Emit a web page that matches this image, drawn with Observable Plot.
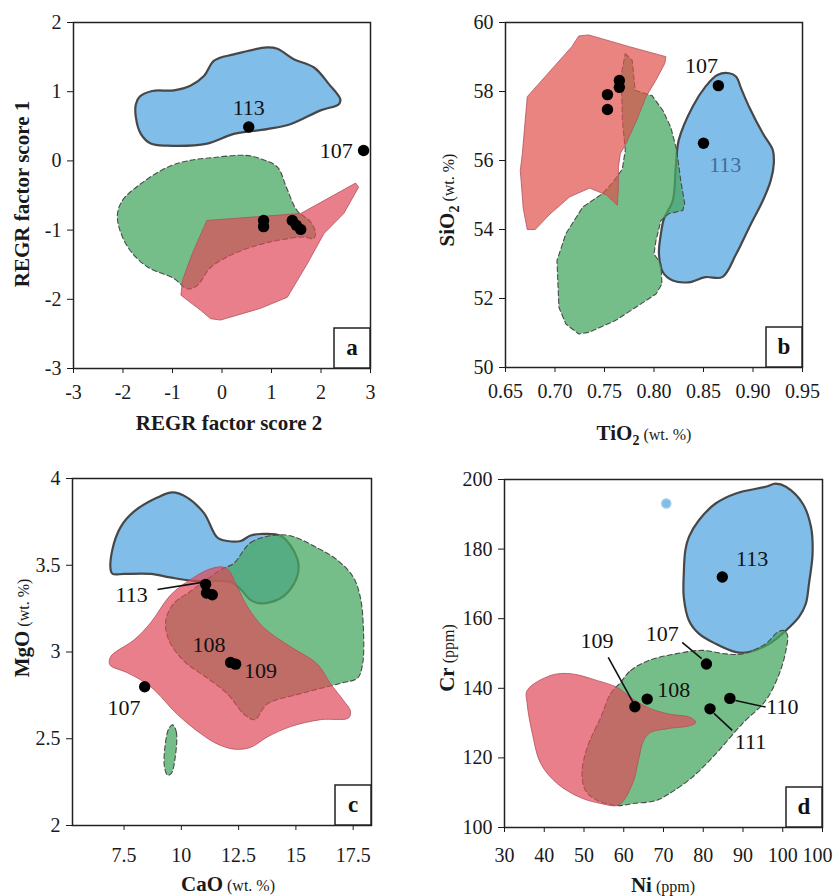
<!DOCTYPE html>
<html><head><meta charset="utf-8">
<script src="https://cdn.jsdelivr.net/npm/d3@7"></script>
<script src="https://cdn.jsdelivr.net/npm/@observablehq/plot@0.6"></script>
<style>
body{margin:0;background:#fff;}
#fig{position:relative;width:835px;height:896px;}
#fig svg{position:absolute;overflow:visible;}
</style></head><body><div id="fig"></div>
<script>
// ---------- Panel a: REGR factor scores ----------
const aTicksX = [-3,-2,-1,0,1,2,3];
const aTicksY = [-3,-2,-1,0,1,2];
const aBlue = [[-1.74,0.82],[-1.66,0.93],[-1.41,1.01],[-0.97,1.02],[-0.63,1.09],[-0.36,1.23],[-0.16,1.45],[0.24,1.54],[0.91,1.64],[1.12,1.62],[1.45,1.47],[1.86,1.35],[2.16,1.11],[2.39,0.89],[2.36,0.82],[1.99,0.73],[1.38,0.53],[0.91,0.46],[0.24,0.39],[-0.30,0.25],[-1.10,0.22],[-1.44,0.25],[-1.64,0.39],[-1.74,0.63]];
const aGreen = [[-2.11,-0.76],[-2.01,-0.57],[-1.64,-0.33],[-1.10,-0.09],[-0.70,0.0],[-0.16,0.05],[0.48,0.08],[0.78,0.03],[1.12,-0.09],[1.30,-0.38],[1.52,-0.72],[1.79,-0.88],[1.89,-1.05],[1.85,-1.12],[1.65,-1.10],[0.98,-1.17],[0.31,-1.32],[-0.23,-1.54],[-0.50,-1.80],[-0.70,-1.85],[-0.97,-1.70],[-1.51,-1.53],[-1.88,-1.27],[-2.08,-0.96]];
const aRed = [[-0.30,-0.86],[1.59,-0.76],[2.70,-0.32],[2.76,-0.38],[2.46,-0.76],[2.06,-1.05],[1.72,-1.49],[1.32,-1.97],[0.78,-2.13],[-0.03,-2.30],[-0.23,-2.28],[-0.43,-2.16],[-0.83,-1.94],[-0.80,-1.73],[-0.60,-1.34]];
const aPoints = [{x:0.54,y:0.49},{x:2.86,y:0.15},{x:0.84,y:-0.86},{x:0.84,y:-0.95},{x:1.42,y:-0.86},{x:1.50,y:-0.93},{x:1.59,y:-0.99}];
const aLabels = [{x:0.54,y:0.76,t:"113",anchor:"middle"},{x:2.64,y:0.14,t:"107",anchor:"end"}];

// ---------- Panel b: TiO2 vs SiO2 ----------
const bTicksX = [0.65,0.70,0.75,0.80,0.85,0.90,0.95];
const bTickLabelsX = ["0.65","0.70","0.75","0.80","0.85","0.90","0.95"];
const bTicksY = [50,52,54,56,58,60];
const bBlue = [[0.876,58.53],[0.883,58.43],[0.888,58.09],[0.896,57.56],[0.910,56.78],[0.920,56.30],[0.921,55.91],[0.918,55.43],[0.910,54.84],[0.898,54.17],[0.883,53.29],[0.869,52.62],[0.852,52.62],[0.835,52.47],[0.819,52.52],[0.809,52.76],[0.805,53.29],[0.807,53.88],[0.810,54.31],[0.819,54.84],[0.822,55.81],[0.825,56.59],[0.839,57.56],[0.852,58.14],[0.864,58.48]];
const bGreen = [[0.771,59.10],[0.778,58.90],[0.781,58.03],[0.791,57.94],[0.798,57.88],[0.809,57.45],[0.817,56.96],[0.823,56.29],[0.827,55.42],[0.831,54.75],[0.829,54.55],[0.815,54.46],[0.807,54.26],[0.802,53.68],[0.800,53.29],[0.807,53.00],[0.808,52.42],[0.802,52.13],[0.761,51.36],[0.734,51.02],[0.724,50.97],[0.711,51.26],[0.704,51.74],[0.702,53.10],[0.711,53.88],[0.728,54.65],[0.748,55.04],[0.758,55.35],[0.768,55.75],[0.771,56.3],[0.768,57.2],[0.767,58.5]];
const bRed = [[0.665,55.72],[0.667,56.20],[0.672,57.85],[0.690,58.43],[0.717,59.30],[0.724,59.61],[0.734,59.64],[0.775,59.30],[0.812,59.01],[0.811,58.82],[0.802,58.33],[0.792,57.85],[0.783,57.2],[0.772,56.5],[0.766,56.2],[0.764,55.8],[0.764,55.2],[0.763,54.7],[0.752,55.0],[0.735,55.2],[0.715,54.95],[0.695,54.45],[0.680,54.0],[0.672,54.0],[0.668,54.6]];
const bPoints = [{x:0.753,y:57.91},{x:0.753,y:57.48},{x:0.765,y:58.32},{x:0.765,y:58.12},{x:0.865,y:58.17},{x:0.850,y:56.50}];
const bLabels = [{x:0.848,y:58.75,t:"107",c:"#111",anchor:"middle"},{x:0.872,y:55.86,t:"113",c:"#3f6f98",anchor:"middle"}];

// ---------- Panel c: CaO vs MgO ----------
const cTicksX = [7.5,10,12.5,15,17.5];
const cTicksY = [2,2.5,3,3.5,4];
const cBlue = [[6.92,3.47],[6.99,3.59],[7.35,3.72],[7.94,3.81],[8.95,3.89],[9.61,3.92],[10.26,3.89],[10.99,3.80],[11.57,3.66],[12.01,3.64],[12.59,3.64],[13.0,3.67],[13.46,3.68],[14.33,3.67],[14.9,3.585],[15.12,3.49],[14.9,3.39],[14.33,3.31],[13.46,3.28],[13.02,3.30],[12.6,3.36],[12.2,3.40],[11.5,3.41],[10.54,3.41],[9.5,3.43],[8.67,3.45],[7.5,3.45],[7.0,3.45]];
const cGreen = [[12.28,3.51],[13.02,3.63],[13.89,3.67],[14.76,3.67],[15.94,3.60],[16.81,3.53],[17.51,3.43],[17.82,3.31],[17.95,3.12],[17.91,2.93],[17.69,2.85],[16.95,2.82],[15.2,2.76],[13.75,2.70],[13.2,2.61],[12.75,2.64],[12.0,2.76],[11.13,2.85],[10.1,2.95],[9.45,3.07],[9.32,3.18],[9.67,3.28],[10.4,3.35],[11.13,3.42],[11.8,3.48]];
const cGreenSmall = [[9.62,2.58],[9.78,2.54],[9.74,2.40],[9.56,2.30],[9.40,2.29],[9.26,2.34],[9.30,2.47],[9.46,2.56]];
const cRed = [[6.85,2.94],[6.95,2.98],[7.94,3.07],[8.67,3.17],[9.54,3.33],[10.54,3.43],[11.28,3.48],[11.8,3.49],[12.07,3.47],[12.46,3.37],[12.89,3.26],[13.6,3.14],[14.77,3.03],[15.94,2.93],[16.5,2.82],[17.08,2.72],[17.38,2.66],[17.3,2.62],[16.08,2.61],[14.77,2.57],[13.75,2.51],[13.02,2.45],[12.30,2.44],[11.57,2.47],[10.84,2.53],[9.83,2.64],[8.66,2.80],[7.65,2.88],[6.92,2.92]];
const cPoints = [{x:11.06,y:3.39},{x:11.10,y:3.34},{x:11.35,y:3.33},{x:12.15,y:2.94},{x:12.37,y:2.93},{x:8.40,y:2.80}];
const cLabels = [{x:8.53,y:3.33,t:"113",anchor:"end"},{x:11.21,y:3.04,t:"108",anchor:"middle"},{x:13.46,y:2.89,t:"109",anchor:"middle"},{x:7.5,y:2.68,t:"107",anchor:"middle"}];
const cLeaders = [{x1:8.96,y1:3.36,x2:10.84,y2:3.40}];

// ---------- Panel d: Ni vs Cr ----------
const dTicksX = [30,40,50,60,70,80,90,100,110];
const dTickLabelsX = ["30","40","50","60","70","80","90","100","100"];
const dTicksY = [100,120,140,160,180,200];
const dBlue = [[75.5,179.7],[76.4,183.5],[78.9,188.3],[83.1,193.1],[88.2,196.0],[95.7,197.9],[98.2,198.8],[100.8,197.9],[105.0,193.1],[107.1,186.4],[107.5,178.7],[106.6,170.1],[105.8,164.3],[104.1,160.5],[100.8,156.6],[96.6,152.8],[91.5,150.4],[88.2,150.4],[83.1,152.8],[78.9,155.7],[76.4,159.5],[75.1,166.2],[75.1,172.9]];
const dBlueSpot = [{x:70.7,y:193.1}];
const dGreen = [[59.2,141.7],[61.7,145.1],[66.3,148.0],[73.0,149.9],[79.7,150.9],[85.6,149.9],[89.8,149.9],[95.7,152.8],[98.7,156.1],[100.3,156.6],[101.2,155.2],[100.8,150.9],[99.1,144.1],[95.7,136.5],[89.8,129.8],[83.1,121.1],[77.2,114.4],[71.3,109.6],[68.0,107.7],[62.5,106.9],[58.4,106.3],[53.3,107.8],[50.4,110.6],[49.5,115.5],[50.8,123.0],[54.2,131.6],[56.7,138.5]];
const dRed = [[35.7,139.4],[41.6,143.7],[46.6,144.2],[53.4,142.2],[58.4,140.2],[61.7,137.4],[66.0,134.5],[71.0,132.7],[76.8,131.6],[78.1,130.2],[76.8,129.3],[71.0,128.4],[66.7,127.3],[65.0,125.0],[63.7,119.3],[62.5,113.5],[60.0,107.8],[58.4,106.3],[54.2,106.9],[49.1,108.6],[43.3,112.6],[39.1,118.4],[37.0,127.0],[35.7,135.6]];
const dPoints = [{x:84.8,y:172.0},{x:80.8,y:147.0},{x:65.9,y:136.9},{x:62.8,y:134.7},{x:86.7,y:137.1},{x:81.7,y:134.1}];
const dLabels = [{x:92.3,y:177.2,t:"113",anchor:"middle"},{x:69.7,y:155.7,t:"107",anchor:"middle"},{x:53.3,y:153.7,t:"109",anchor:"middle"},{x:72.6,y:139.6,t:"108",anchor:"middle"},{x:99.9,y:134.6,t:"110",anchor:"middle"},{x:91.9,y:124.5,t:"111",anchor:"middle"}];
const dLeaders = [{x1:74.7,y1:153.2,x2:79.6,y2:148.5},{x1:56.1,y1:148.9,x2:62.3,y2:136.0},{x1:88.1,y1:136.5,x2:95.7,y2:134.6},{x1:82.7,y1:132.8,x2:87.3,y2:127.9}];

// ---------- styles ----------
const FONT = "'Liberation Serif','Times New Roman',serif";
const BLUE = "#80bde8", GREEN = "#48a862", RED = "#e04858", SALMON = "#e0504c";
const px = d => d[0], py = d => d[1];
const blueShape = (data, curve="catmull-rom-closed") => Plot.line(data, {x: px, y: py, curve, fill: BLUE, stroke: "#474747", strokeWidth: 2.2});
const greenShape = (data, curve="catmull-rom-closed") => Plot.line(data, {x: px, y: py, curve, fill: GREEN, fillOpacity: 0.75, stroke: "#4a4a4a", strokeWidth: 1.1, strokeDasharray: "5,3"});
const redShape = (data, curve="catmull-rom-closed", color=RED) => Plot.line(data, {x: px, y: py, curve, fill: color, fillOpacity: 0.7, stroke: "#b0505c", strokeWidth: 0.8});
const dots = data => Plot.dot(data, {x: "x", y: "y", r: 5.7, fill: "#000"});
const labelMarks = (data) => ["start", "middle", "end"].map(a =>
  Plot.text(data.filter(d => d.anchor === a), {x: "x", y: "y", text: "t", fontSize: 22, fill: d => d.c || "#111", textAnchor: a}));
const leaders = data => Plot.link(data, {x1: "x1", y1: "y1", x2: "x2", y2: "y2", stroke: "#111", strokeWidth: 1.6});
const fromList = (ticks, list) => d => list[ticks.indexOf(d)];

const fig = document.getElementById("fig");

function addLabel(svg, x, y, rotate, parts) {
  const t = svg.append("text")
    .attr("text-anchor", "middle")
    .attr("fill", "#1a1a1a")
    .style("font-family", FONT)
    .attr("transform", `translate(${x},${y})` + (rotate ? " rotate(-90)" : ""));
  parts.forEach(p => {
    const s = t.append("tspan").text(p.t)
      .style("font-size", (p.sub ? 14 : (p.bold ? 21 : 16)) + "px")
      .style("font-weight", p.bold ? "bold" : "normal");
    if (p.sub) s.attr("dy", 5);
    if (p.after) s.attr("dy", -5);
  });
}

function panel(cfg) {
  const plot = Plot.plot({
    width: cfg.width, height: cfg.height,
    marginTop: cfg.m[0], marginRight: cfg.m[1], marginBottom: cfg.m[2], marginLeft: cfg.m[3],
    style: {fontFamily: FONT, fontSize: "20px", background: "transparent", color: "#1a1a1a"},
    x: {domain: cfg.xDomain, ticks: cfg.xTicks, tickFormat: cfg.xFormat, tickSize: 5, tickPadding: cfg.xPad, label: null},
    y: {domain: cfg.yDomain, ticks: cfg.yTicks, tickFormat: cfg.yFormat, tickSize: 6, tickPadding: 6, label: null},
    marks: [...cfg.marks, Plot.frame({stroke: "#222", strokeWidth: 1.5})]
  });
  plot.style.left = cfg.left + "px";
  plot.style.top = cfg.top + "px";
  fig.appendChild(plot);
  const svg = d3.select(plot);
  svg.selectAll("text").style("font-family", FONT);
  const axisGroups = svg.selectAll("g").filter(function () {
    const a = this.getAttribute("aria-label") || "";
    return a.includes("axis");
  });
  axisGroups.selectAll("text").style("font-size", "20px").style("font-family", FONT);
  if (cfg.nudgeLastX) {
    const xl = svg.selectAll("g").filter(function () {
      const a = this.getAttribute("aria-label") || "";
      return a.includes("x-axis") && a.includes("label");
    }).selectAll("text").nodes();
    if (xl.length) d3.select(xl[xl.length - 1]).attr("dx", cfg.nudgeLastX);
  }
  const xr = plot.scale("x").range, yr = plot.scale("y").range;
  const right = Math.max(...xr), bottom = Math.max(...yr);
  svg.append("rect").attr("x", right - 36).attr("y", bottom - 40).attr("width", 36).attr("height", 40)
    .attr("fill", "#fff").attr("stroke", "#222").attr("stroke-width", 1.5);
  svg.append("text").attr("x", right - 18).attr("y", bottom - 13).attr("text-anchor", "middle")
    .style("font-family", FONT).style("font-weight", "bold").style("font-size", "23px").attr("fill", "#111").text(cfg.letter);
  addLabel(svg, cfg.xl[0], cfg.xl[1], false, cfg.xParts);
  addLabel(svg, cfg.yl[0], cfg.yl[1], true, cfg.yParts);
}

panel({
  left: 0, top: 0, width: 417, height: 440, m: [22, 47, 72, 73], xPad: 11,
  xDomain: [-3, 3], yDomain: [-3, 2], xTicks: aTicksX, yTicks: aTicksY,
  xFormat: d => String(d), yFormat: d => String(d),
  marks: [blueShape(aBlue), greenShape(aGreen), redShape(aRed, "linear-closed"), dots(aPoints), ...labelMarks(aLabels)],
  letter: "a", xl: [229, 430], yl: [29, 194],
  xParts: [{t: "REGR factor score 2", bold: true}],
  yParts: [{t: "REGR factor score 1", bold: true}]
});

panel({
  left: 417, top: 0, width: 418, height: 440, m: [22, 33, 73, 88], xPad: 11,
  xDomain: [0.65, 0.95], yDomain: [50, 60], xTicks: bTicksX, yTicks: bTicksY,
  xFormat: fromList(bTicksX, bTickLabelsX), yFormat: d => String(d),
  marks: [blueShape(bBlue), greenShape(bGreen, "linear-closed"), redShape(bRed, "linear-closed", SALMON), dots(bPoints), ...labelMarks(bLabels)],
  letter: "b", xl: [227, 440], yl: [37, 200],
  xParts: [{t: "TiO", bold: true}, {t: "2", bold: true, sub: true}, {t: " (wt. %)", after: true}],
  yParts: [{t: "SiO", bold: true}, {t: "2", bold: true, sub: true}, {t: " (wt. %)", after: true}]
});

panel({
  left: 0, top: 440, width: 417, height: 456, m: [38, 46, 71, 72], xPad: 17,
  xDomain: [5.25, 18.3], yDomain: [2, 4], xTicks: cTicksX, yTicks: cTicksY,
  xFormat: d => String(d), yFormat: d => String(d),
  marks: [blueShape(cBlue), greenShape(cGreen), greenShape(cGreenSmall), redShape(cRed), leaders(cLeaders), dots(cPoints), ...labelMarks(cLabels)],
  letter: "c", xl: [228, 451], yl: [29, 188],
  xParts: [{t: "CaO", bold: true}, {t: " (wt. %)"}],
  yParts: [{t: "MgO", bold: true}, {t: " (wt. %)"}]
});

panel({
  left: 417, top: 440, width: 418, height: 456, m: [39, 13, 69, 87], xPad: 15, nudgeLastX: -5,
  xDomain: [30, 110], yDomain: [100, 200], xTicks: dTicksX, yTicks: dTicksY,
  xFormat: fromList(dTicksX, dTickLabelsX), yFormat: d => String(d),
  marks: [blueShape(dBlue), Plot.dot(dBlueSpot, {x: "x", y: "y", r: 4.5, fill: BLUE, stroke: "#9ecbea"}),
          greenShape(dGreen), redShape(dRed), leaders(dLeaders), dots(dPoints), ...labelMarks(dLabels)],
  letter: "d", xl: [246, 452], yl: [37, 218],
  xParts: [{t: "Ni", bold: true}, {t: " (ppm)"}],
  yParts: [{t: "Cr", bold: true}, {t: " (ppm)"}]
});
</script>
</body></html>
